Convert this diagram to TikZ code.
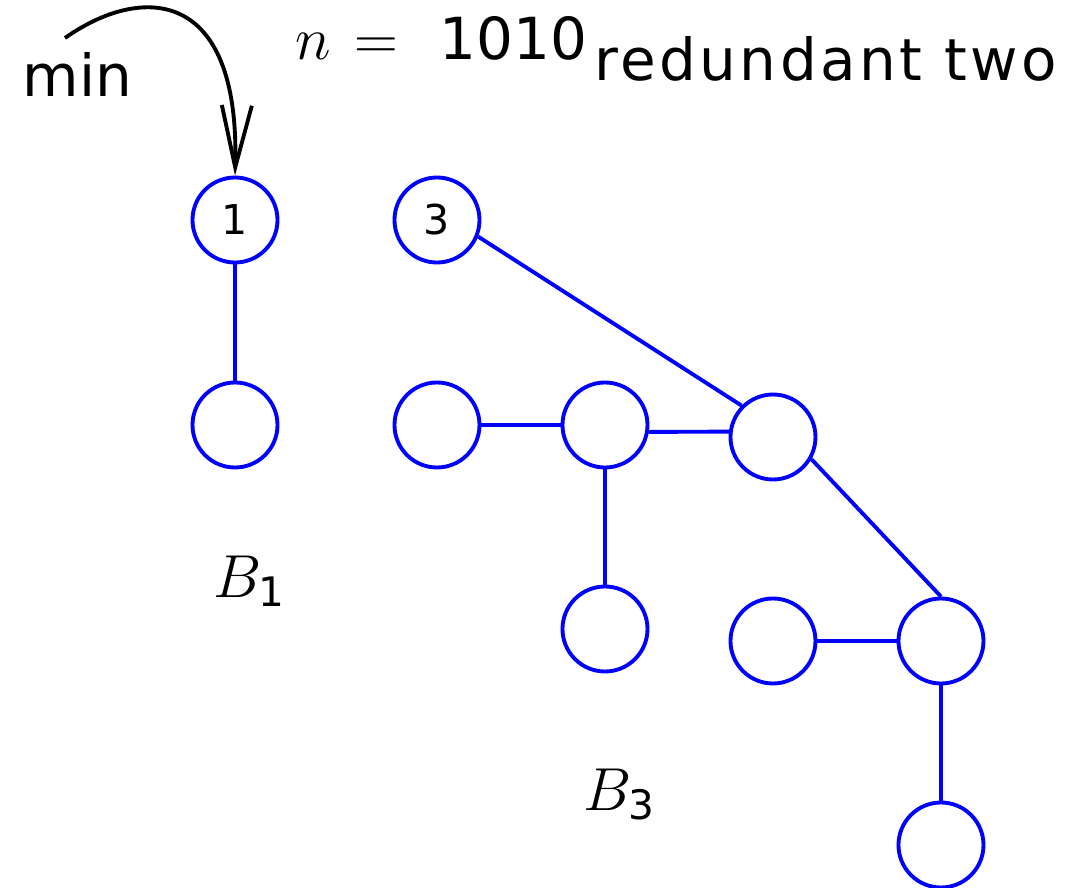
\documentclass[tikz,border=0pt]{standalone}
\usepackage{amsmath}
\usepackage{fontspec}
\setmainfont{DejaVu Sans}
\newfontfamily\spacedsans[LetterSpace=6]{DejaVu Sans}
\usepackage{tikz}
\usetikzlibrary{arrows.meta}
\definecolor{treeblue}{HTML}{0000FF}
\tikzset{
    tnode/.style={circle,draw=treeblue,line width=1.1pt,minimum size=0.85cm,inner sep=0pt,
        font=\fontsize{11.7}{14}\selectfont},
    tedge/.style={treeblue,line width=1.1pt},
    lbl/.style={inner sep=0pt,anchor=base west,font=\fontsize{16.5}{20}\selectfont}
}

\begin{document}
\begin{tikzpicture}
    \useasboundingbox (0,0) rectangle (10.84,8.88);
    \node[tnode] (n1) at (2.35,6.68) {1};
    \node[tnode] (c1) at (2.35,4.63) {};
    \node[tnode] (n3) at (4.37,6.68) {3};
    \node[tnode] (a) at (4.37,4.63) {};
    \node[tnode] (b) at (6.05,4.63) {};
    \node[tnode] (r) at (7.73,4.51) {};
    \node[tnode] (d) at (6.05,2.59) {};
    \node[tnode] (f) at (7.73,2.47) {};
    \node[tnode] (e) at (9.41,2.47) {};
    \node[tnode] (g) at (9.41,0.43) {};
    \draw[tedge] (n1) -- (c1);
    \draw[tedge] (n3.-22) -- (r.135);
    \draw[tedge] (a) -- (b);
    \draw[tedge] (b.-9.5) -- (r.173);
    \draw[tedge] (b) -- (d);
    \draw[tedge] (r.-30) -- (e.north);
    \draw[tedge] (f) -- (e);
    \draw[tedge] (e) -- (g);
    \node[lbl] (b1) at (2.13,2.91) {$B_{\text{1}}$};
    \node[lbl] (b3) at (5.83,0.78) {$B_{\text{3}}$};
    \node[lbl] (mn) at (0.22,7.92) {min};
    \node[lbl] (nv) at (2.95,8.28) {$n\hspace{0.06cm}=\hspace{0.25cm}\text{1010}$\hspace{0.07cm}\raisebox{-0.21cm}{\spacedsans redundant two}};
    \coordinate (s) at (0.65,8.50);
    \draw[line width=1.1pt,-{Straight Barb[length=0.62cm,width=0.30cm]}]
        (s) .. controls (1.40,9.03) and (2.40,9.03) .. (n1.north);
\end{tikzpicture}
\end{document}
